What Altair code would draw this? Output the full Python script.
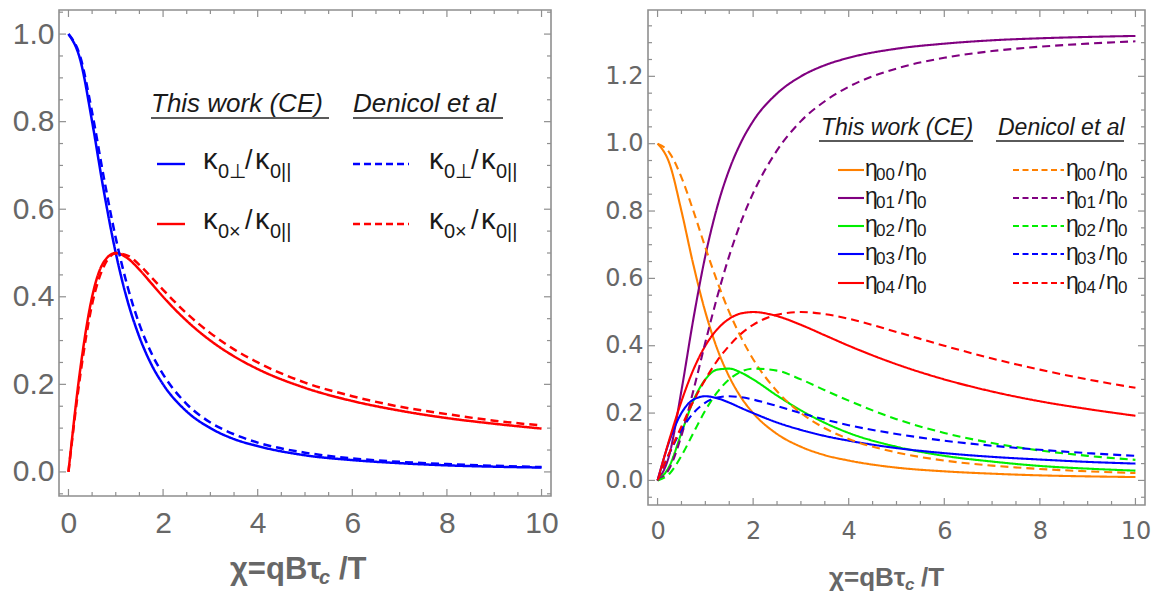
import altair as alt
import pandas as pd
import numpy as np

# ---------------- data ----------------
chi = [0, 0.25, 0.5, 0.75, 1, 1.25, 1.5, 1.75, 2, 2.5, 3, 3.5, 4, 5, 6, 7, 8, 9, 10]

# left panel: kappa ratios
kperp_ce = [1.0, 0.941, 0.800, 0.640, 0.500, 0.390, 0.308, 0.246, 0.200, 0.138, 0.100, 0.075, 0.059, 0.038, 0.027, 0.020, 0.015, 0.012, 0.010]
kx_ce = [0.0, 0.235, 0.400, 0.480, 0.500, 0.488, 0.462, 0.431, 0.400, 0.345, 0.300, 0.264, 0.235, 0.192, 0.162, 0.140, 0.123, 0.110, 0.099]
kperp_den = [1.0, 0.948, 0.821, 0.671, 0.534, 0.423, 0.337, 0.272, 0.223, 0.155, 0.113, 0.086, 0.067, 0.044, 0.031, 0.023, 0.018, 0.014, 0.011]
kx_den = [0.0, 0.221, 0.383, 0.470, 0.499, 0.494, 0.473, 0.445, 0.416, 0.362, 0.317, 0.280, 0.250, 0.204, 0.173, 0.149, 0.132, 0.117, 0.106]

# right panel: eta ratios
e00_ce = [1.0, 0.941, 0.800, 0.640, 0.500, 0.390, 0.308, 0.246, 0.200, 0.138, 0.100, 0.075, 0.059, 0.038, 0.027, 0.020, 0.015, 0.012, 0.010]
e01_ce = [0.0, 0.078, 0.267, 0.480, 0.667, 0.813, 0.923, 1.005, 1.067, 1.149, 1.200, 1.233, 1.255, 1.282, 1.297, 1.307, 1.313, 1.317, 1.320]
e02_ce = [0.0, 0.043, 0.141, 0.237, 0.300, 0.329, 0.332, 0.320, 0.300, 0.252, 0.208, 0.171, 0.141, 0.100, 0.073, 0.056, 0.043, 0.035, 0.029]
e03_ce = [0.0, 0.118, 0.200, 0.240, 0.250, 0.244, 0.231, 0.215, 0.200, 0.172, 0.150, 0.132, 0.118, 0.096, 0.081, 0.070, 0.062, 0.055, 0.050]
e04_ce = [0.0, 0.123, 0.235, 0.329, 0.400, 0.449, 0.480, 0.496, 0.500, 0.488, 0.462, 0.431, 0.400, 0.345, 0.300, 0.264, 0.235, 0.212, 0.192]
e00_den = [1.0, 0.973, 0.900, 0.800, 0.692, 0.590, 0.500, 0.424, 0.360, 0.265, 0.200, 0.155, 0.123, 0.083, 0.059, 0.044, 0.034, 0.027, 0.022]
e01_den = [0.0, 0.036, 0.133, 0.267, 0.410, 0.546, 0.667, 0.769, 0.853, 0.980, 1.067, 1.126, 1.169, 1.223, 1.255, 1.275, 1.288, 1.297, 1.304]
e02_den = [0.0, 0.020, 0.073, 0.141, 0.208, 0.262, 0.300, 0.323, 0.332, 0.326, 0.300, 0.268, 0.237, 0.182, 0.141, 0.111, 0.089, 0.073, 0.061]
e03_den = [0.0, 0.081, 0.150, 0.200, 0.231, 0.246, 0.250, 0.247, 0.240, 0.221, 0.200, 0.181, 0.164, 0.138, 0.118, 0.103, 0.091, 0.081, 0.073]
e04_den = [0.0, 0.083, 0.160, 0.235, 0.300, 0.356, 0.400, 0.436, 0.462, 0.492, 0.500, 0.494, 0.480, 0.441, 0.400, 0.362, 0.329, 0.300, 0.275]

left_colors = ["#0000ff", "#ff0000"]
left_subs = ["0\u22a5", "0\u00d7"]
right_colors = ["#ff8000", "#800080", "#00ee00", "#0000ff", "#ff0000"]
right_subs = ["00", "01", "02", "03", "04"]

xticks_major = [0, 2, 4, 6, 8, 10]
left_yticks = [0.0, 0.2, 0.4, 0.6, 0.8, 1.0]
right_yticks = [0.0, 0.2, 0.4, 0.6, 0.8, 1.0, 1.2]

# ---------------- styling ----------------
FONT = "Liberation Sans"
FRAME = "#8f8f8f"
LABEL = "#676767"
TXT = "#1a1a1a"
ONE = pd.DataFrame({"a": [0]})


def long_df(series):
    rows = []
    for name, vals, color, dash in series:
        for c, v in zip(chi, vals):
            rows.append({"chi": c, "val": v, "series": name, "color": color, "dash": dash})
    return pd.DataFrame(rows)


def txt(t, x, y, size, style="normal", weight="normal", color=TXT, align="left", font=FONT):
    return alt.Chart(ONE).mark_text(
        align=align, baseline="alphabetic", fontSize=size, fontStyle=style,
        fontWeight=weight, color=color, font=font
    ).encode(x=alt.value(x), y=alt.value(y), text=alt.value(t))


def hline(x1, x2, y, color, width, dash=None):
    kw = dict(color=color, strokeWidth=width)
    if dash:
        kw["strokeDash"] = dash
    return alt.Chart(ONE).mark_rule(**kw).encode(x=alt.value(x1), x2=alt.value(x2), y=alt.value(y))


def xtitle(x_main, x_sub, x_rest, base, size, subsize, subdrop):
    # "χ=qBτ" + italic subscript "c" + "/T"
    return [
        txt("\u03c7=qB\u03c4", x_main, base, size, weight="bold", color=LABEL),
        txt("c", x_sub, base + subdrop, subsize, style="italic", weight="bold", color=LABEL),
        txt("/T", x_rest, base, size, weight="bold", color=LABEL),
    ]


def panel(series, W, H, ydom, yvals, tfont, tsize, xpad, sw, dash):
    xs = alt.Scale(domain=[-0.2, 10.2], nice=False, zero=False)
    ys = alt.Scale(domain=ydom, nice=False, zero=False)
    xax = alt.Axis(values=xticks_major, format="d", title=None, domain=False, ticks=False, grid=False,
                   labelFont=tfont, labelFontSize=tsize, labelColor=LABEL, labelPadding=xpad,
                   labelFlush=False, labelOverlap=False)
    yax = alt.Axis(values=yvals, format=".1f", title=None, domain=False, ticks=False, grid=False,
                   labelFont=tfont, labelFontSize=tsize, labelColor=LABEL, labelPadding=5,
                   labelOverlap=False)
    df = long_df(series)
    curves = alt.Chart(df).mark_line(interpolate="monotone", strokeWidth=sw).encode(
        x=alt.X("chi:Q", scale=xs, axis=xax),
        y=alt.Y("val:Q", scale=ys, axis=yax),
        color=alt.Color("color:N", scale=None),
        detail="series:N",
        strokeDash=alt.StrokeDash("dash:N", scale=alt.Scale(domain=["solid", "dashed"], range=[[1, 0], dash]), legend=None),
    )
    # frame ticks (Mathematica-style, pointing inward, on all four sides)
    ymin, ymax = ydom
    xmin_ = [float(v) for v in np.arange(0, 10.01, 0.5) if abs(v / 2 - round(v / 2)) > 1e-6]
    ymaj = [float(v) for v in np.round(np.arange(-0.2, ymax, 0.2), 3) if ymin < v < ymax]
    ymin_ = [float(v) for v in np.round(np.arange(-0.2, ymax, 0.05), 3) if ymin < v < ymax and v not in ymaj]
    layers = []
    for vals, ln in ((xticks_major, 7), (xmin_, 4)):
        d = pd.DataFrame({"chi": vals})
        b = alt.Chart(d).mark_rule(color=FRAME, strokeWidth=1.2)
        layers.append(b.encode(x=alt.X("chi:Q", scale=xs, axis=xax), y=alt.value(H), y2=alt.value(H - ln)))
        layers.append(b.encode(x=alt.X("chi:Q", scale=xs, axis=xax), y=alt.value(0), y2=alt.value(ln)))
    for vals, ln in ((ymaj, 7), (ymin_, 4)):
        d = pd.DataFrame({"val": vals})
        b = alt.Chart(d).mark_rule(color=FRAME, strokeWidth=1.2)
        layers.append(b.encode(y=alt.Y("val:Q", scale=ys, axis=yax), x=alt.value(0), x2=alt.value(ln)))
        layers.append(b.encode(y=alt.Y("val:Q", scale=ys, axis=yax), x=alt.value(W), x2=alt.value(W - ln)))
    return curves, layers


# ---------------- left panel ----------------
LW, LH = 492, 486
lseries = [
    ("kperp_ce", kperp_ce, left_colors[0], "solid"),
    ("kx_ce", kx_ce, left_colors[1], "solid"),
    ("kperp_den", kperp_den, left_colors[0], "dashed"),
    ("kx_den", kx_den, left_colors[1], "dashed"),
]
lcurves, lticks = panel(lseries, LW, LH, [-0.055, 1.055], left_yticks, FONT, 30, 12, 2.5, [8, 5])
lleg = [
    txt("This work (CE)", 92, 102, 26, style="italic"),
    hline(92, 270, 108, "#5a5a5a", 2),
    txt("Denicol et al", 294, 102, 26, style="italic"),
    hline(294, 444, 108, "#5a5a5a", 2),
]
for i, (col, sub) in enumerate(zip(left_colors, left_subs)):
    yl = 154 + 60 * i
    lleg.append(hline(98, 126, yl, col, 2.4))
    lleg.append(hline(294, 350, yl, col, 2.4, [7, 4]))
    for x0 in (144, 370):
        lleg += [
            txt("\u03ba", x0, yl + 5, 29),
            txt(sub, x0 + 15, yl + 14, 20),
            txt("/", x0 + 42, yl + 5, 27),
            txt("\u03ba", x0 + 52, yl + 5, 29),
            txt("0||", x0 + 67, yl + 14, 20),
        ]
ltitle = xtitle(171, 260, 280, LH + 83, 31, 20, 5)
left = alt.layer(lcurves, *lticks, *lleg, *ltitle).properties(width=LW, height=LH)

# ---------------- right panel ----------------
RW, RH = 497, 495
rce = [e00_ce, e01_ce, e02_ce, e03_ce, e04_ce]
rden = [e00_den, e01_den, e02_den, e03_den, e04_den]
rseries = [("ce" + s, v, c, "solid") for s, v, c in zip(right_subs, rce, right_colors)] + \
          [("den" + s, v, c, "dashed") for s, v, c in zip(right_subs, rden, right_colors)]
rcurves, rticks = panel(rseries, RW, RH, [-0.073, 1.397], right_yticks, "DejaVu Sans", 24, 14, 2.1, [9, 5])
rleg = [
    txt("This work (CE)", 173, 125, 23, style="italic"),
    hline(171, 325, 131, "#5a5a5a", 2),
    txt("Denicol et al", 350, 125, 23, style="italic"),
    hline(348, 476, 131, "#5a5a5a", 2),
]
row_y = [160, 188, 216, 244, 273]
for yl, col, sub in zip(row_y, right_colors, right_subs):
    rleg.append(hline(190, 216, yl, col, 2.1))
    rleg.append(hline(365, 416, yl, col, 2.1, [6, 3.5]))
    for x0 in (217, 418):
        rleg += [
            txt("\u03b7", x0, yl + 6, 23),
            txt(sub, x0 + 11, yl + 10, 17),
            txt("/", x0 + 33, yl + 6, 21),
            txt("\u03b7", x0 + 40, yl + 6, 23),
            txt("0", x0 + 52, yl + 10, 17),
        ]
rtitle = xtitle(181, 257, 273, RH + 81, 26, 17, 4)
right = alt.layer(rcurves, *rticks, *rleg, *rtitle).properties(width=RW, height=RH)

chart = alt.hconcat(left, right, spacing=44).properties(
    padding={"left": 3, "top": 0, "right": 0, "bottom": 0},
    background="white",
).configure_view(stroke=FRAME, strokeWidth=1.6)

chart.save("out.html", embed_options={"renderer": "svg", "actions": False})
